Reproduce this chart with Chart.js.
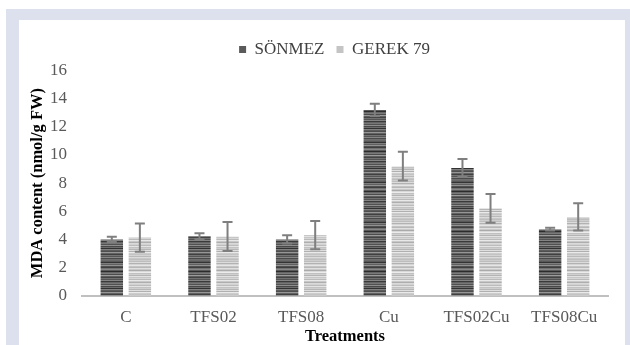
<!DOCTYPE html>
<html>
<head>
<meta charset="utf-8">
<script src="https://cdn.jsdelivr.net/npm/chart.js@4/dist/chart.umd.min.js"></script>
<style>
  html, body { margin: 0; padding: 0; background: #ffffff; }
  body { width: 630px; height: 345px; position: relative; overflow: hidden; }
  #frame { position: absolute; left: 6px; top: 9px; right: 0; bottom: 0; background: #dde1ee; }
  #panel { position: absolute; left: 19px; top: 20px; width: 606px; height: 325px; background: #ffffff; }
  canvas { display: block; }
</style>
</head>
<body>
<div id="frame"></div>
<div id="panel"><canvas id="chart" width="606" height="325"></canvas></div>
<script>
// MDA content per treatment for the two wheat cultivars
const categories = ['C', 'TFS02', 'TFS08', 'Cu', 'TFS02Cu', 'TFS08Cu'];
const sonmez     = [4.0, 4.23, 4.0, 13.2, 9.07, 4.73];
const sonmezErr  = [0.18, 0.2, 0.3, 0.43, 0.64, 0.1];
const gerek      = [4.13, 4.2, 4.3, 9.2, 6.2, 5.6];
const gerekErr   = [1.0, 1.03, 1.0, 1.02, 1.02, 0.96];
const yTicks     = [0, 2, 4, 6, 8, 10, 12, 14, 16];

const FONT = "'Liberation Serif', 'Times New Roman', serif";

// Horizontally streaked fill, one shade per pixel row
function stripedFill(shades) {
  const c = document.createElement('canvas');
  c.width = 4; c.height = shades.length;
  const g = c.getContext('2d');
  shades.forEach((s, i) => {
    g.fillStyle = 'rgb(' + s + ',' + s + ',' + s + ')';
    g.fillRect(0, i, 4, 1);
  });
  return g.createPattern(c, 'repeat');
}
const darkShades = [104, 88, 52, 126, 96, 146, 80, 62, 114, 136, 90, 44, 102, 122, 76, 156, 94, 68, 112, 84,
                    132, 58, 100, 118, 82, 142, 72, 108, 50, 128, 92, 78, 150, 98, 64, 116, 86, 134, 74, 110];
const lightShades = [205, 190, 220, 178, 212, 230, 196, 184, 224, 202, 170, 216, 236, 192, 208, 180, 226, 198, 214, 186,
                     232, 200, 174, 218, 210, 188, 228, 194, 206, 182, 222, 176, 234, 204, 196, 212, 186, 220, 200, 190];
const sonmezFill = stripedFill(darkShades);
const gerekFill = stripedFill(lightShades);

// Error bars drawn through the value scale
const errorBars = {
  id: 'errorBars',
  afterDatasetsDraw(chart) {
    const ctx = chart.ctx;
    const y = chart.scales.y;
    const errs = [sonmezErr, gerekErr];
    ctx.save();
    ctx.strokeStyle = '#7f7f7f';
    ctx.lineWidth = 2;
    chart.data.datasets.forEach((ds, di) => {
      const meta = chart.getDatasetMeta(di);
      meta.data.forEach((bar, i) => {
        const v = ds.data[i], e = errs[di][i];
        const top = y.getPixelForValue(v + e);
        const bot = y.getPixelForValue(v - e);
        const x = bar.x;
        ctx.beginPath();
        ctx.moveTo(x, top); ctx.lineTo(x, bot);
        ctx.moveTo(x - 5, top); ctx.lineTo(x + 5, top);
        ctx.moveTo(x - 5, bot); ctx.lineTo(x + 5, bot);
        ctx.stroke();
      });
    });
    ctx.restore();
  }
};

// Legend band: fixed height, items nudged right of the plot centre
const legendBand = {
  id: 'legendBand',
  beforeUpdate(chart) {
    const lg = chart.legend;
    if (lg && !lg._bandPatched) {
      const fit = lg.fit.bind(lg);
      lg.fit = function () { fit(); this.height = 41.5; };
      lg._bandPatched = true;
    }
  },
  afterLayout(chart) {
    if (chart.legend) chart.legend.left += 42;
  }
};

new Chart(document.getElementById('chart'), {
  type: 'bar',
  data: {
    labels: categories,
    datasets: [
      { label: 'SÖNMEZ', data: sonmez, backgroundColor: sonmezFill, solid: '#5a5a5a' },
      { label: 'GEREK 79', data: gerek, backgroundColor: gerekFill, solid: '#c4c4c4' }
    ]
  },
  options: {
    responsive: false,
    animation: false,
    layout: { padding: { left: 0, right: 17, top: 9, bottom: 0 } },
    datasets: { bar: { categoryPercentage: 0.64, barPercentage: 0.8 } },
    plugins: {
      tooltip: { enabled: false },
      legend: {
        position: 'top',
        labels: {
          font: { family: FONT, size: 17 },
          color: '#404040',
          boxWidth: 7,
          boxHeight: 7,
          padding: 12,
          generateLabels(chart) {
            return chart.data.datasets.map((ds, i) => ({
              text: ds.label,
              fillStyle: ds.solid,
              strokeStyle: ds.solid,
              lineWidth: 0,
              hidden: false,
              datasetIndex: i,
              fontColor: '#404040'
            }));
          }
        }
      }
    },
    scales: {
      x: {
        grid: { display: false, drawTicks: false },
        border: { display: true, color: '#c0c0c0', width: 2 },
        ticks: { font: { family: FONT, size: 17 }, color: '#595959', padding: 12 },
        title: {
          display: true, text: 'Treatments',
          font: { family: FONT, size: 16.5, weight: 'bold', lineHeight: 1 },
          color: '#000000', padding: { top: -1.5, bottom: 0 }
        },
        afterFit(scale) { scale.height = 49.3; }
      },
      y: {
        min: 0, max: 16,
        grid: { display: false, drawTicks: false },
        border: { display: false },
        afterBuildTicks(scale) { scale.ticks = yTicks.map(v => ({ value: v })); },
        ticks: { font: { family: FONT, size: 17 }, color: '#595959', padding: 15 },
        title: {
          display: true, text: 'MDA content (nmol/g FW)',
          font: { family: FONT, size: 16.5, weight: 'bold', lineHeight: 1 },
          color: '#000000', padding: { top: 10, bottom: 0 }
        },
        afterFit(scale) { scale.width = 63; }
      }
    }
  },
  plugins: [legendBand, errorBars]
});
</script>
</body>
</html>
